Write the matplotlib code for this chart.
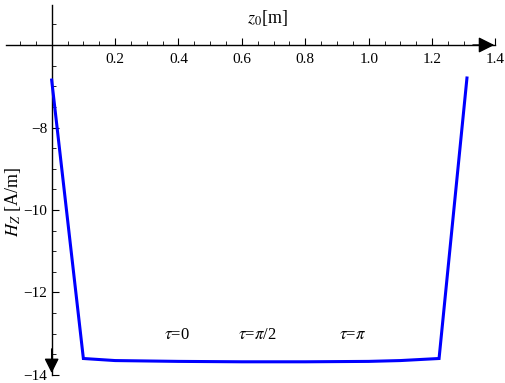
import matplotlib
matplotlib.use("Agg")
import matplotlib.pyplot as plt
from matplotlib.ticker import FixedLocator

plt.rcParams['font.family'] = ['Liberation Serif', 'DejaVu Serif']
plt.rcParams['mathtext.fontset'] = 'stix'

# field along z0
z0 = [0.0, 0.1, 0.2, 0.4, 0.6, 0.8, 1.0, 1.1, 1.222, 1.31]
hz = [-6.85, -13.6, -13.65, -13.67, -13.68, -13.68, -13.67, -13.65, -13.6, -6.8]

tau_labels = [r'$\tau$=0', r'$\tau$=$\pi$/2', r'$\tau$=$\pi$']
tau_x = [0.396, 0.648, 0.948]
tau_y = -13.03

xticks = [0.2, 0.4, 0.6, 0.8, 1.0, 1.2, 1.4]
yticks = [-8, -10, -12, -14]

fig = plt.figure(figsize=(5.05, 3.83), dpi=100)
ax = fig.add_axes([0, 0, 1, 1])
ax.set_xlim(-0.163, 1.430)
ax.set_ylim(-14.194, -4.909)

ax.plot(z0, hz, color='#0000ff', lw=2.2, solid_joinstyle='miter', zorder=3)

# mathematica-style crossing axes
for s in ['top', 'right']:
    ax.spines[s].set_visible(False)
ax.spines['left'].set_position(('data', 0))
ax.spines['bottom'].set_position(('data', -6))
ax.spines['left'].set_bounds(-14.0, -5.03)
ax.spines['bottom'].set_bounds(-0.145, 1.40)
ax.spines['left'].set_linewidth(1.0)
ax.spines['bottom'].set_linewidth(1.0)

ax.xaxis.set_major_locator(FixedLocator(xticks))
ax.xaxis.set_minor_locator(FixedLocator(
    [-0.1, -0.05, 0.05, 0.1, 0.15, 0.25, 0.3, 0.35, 0.45, 0.5, 0.55, 0.65, 0.7, 0.75,
     0.85, 0.9, 0.95, 1.05, 1.1, 1.15, 1.25, 1.3, 1.35]))
ax.yaxis.set_major_locator(FixedLocator(yticks))
ax.yaxis.set_minor_locator(FixedLocator(
    [-5.5, -6.5, -7, -7.5, -8.5, -9, -9.5, -10.5, -11, -11.5, -12.5, -13, -13.5]))
ax.set_xticklabels(['0.2', '0.4', '0.6', '0.8', '1.0', '1.2', '1.4'])
ax.set_yticklabels(['\u22128', '\u221210', '\u221212', '\u221214'])

ax.tick_params(which='major', direction='in', length=5, width=0.8, labelsize=11, pad=3)
ax.tick_params(which='minor', direction='in', length=3, width=0.6)
ax.tick_params(axis='x', which='major', pad=6)

# arrow heads
ax.annotate('', xy=(1.405, -6), xytext=(1.32, -6),
            arrowprops=dict(arrowstyle='-|>', color='black', lw=1.0,
                            mutation_scale=24), zorder=4)
ax.annotate('', xy=(0, -14.02), xytext=(0, -13.3),
            arrowprops=dict(arrowstyle='-|>', color='black', lw=1.0,
                            mutation_scale=22), zorder=4)

ax.text(0.68, -5.35, r'$z_0$[m]', fontsize=13, ha='center', va='center')
ax.text(-0.122, -9.8, r'$H_Z$ [A/m]', fontsize=13, ha='center', va='center',
        rotation=90)

for lab, x in zip(tau_labels, tau_x):
    ax.text(x, tau_y, lab, fontsize=12, ha='center', va='center')

fig.savefig('out.png', dpi=100)
